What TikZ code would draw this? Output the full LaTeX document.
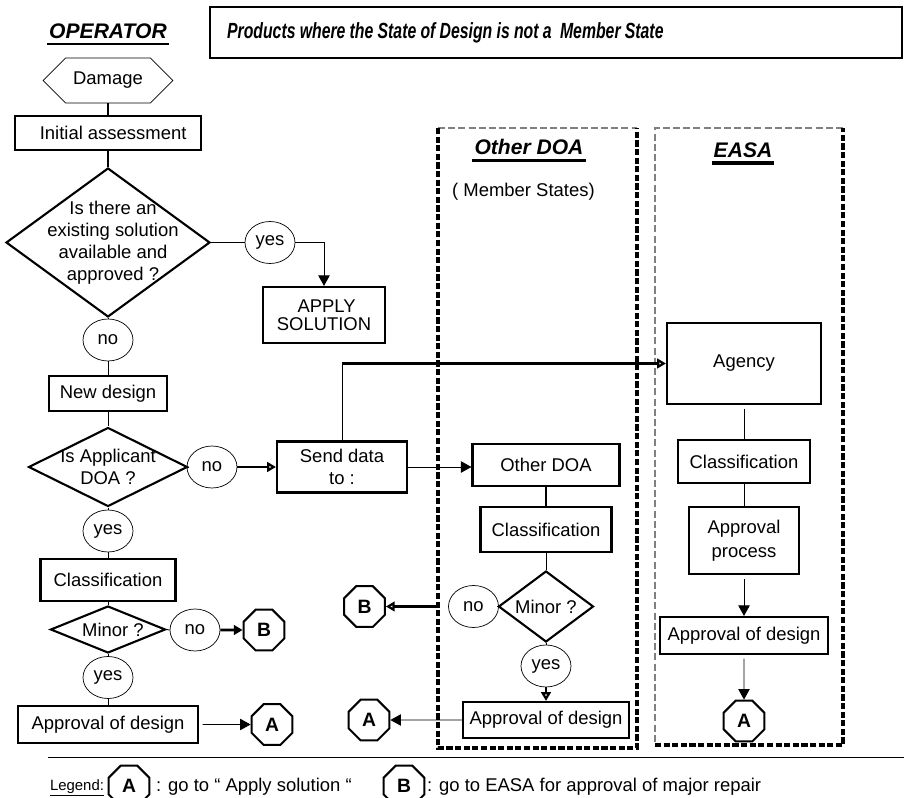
\documentclass[tikz,border=0pt]{standalone}
\usepackage{fontspec}
\setmainfont{Liberation Sans}
\usetikzlibrary{shapes.geometric,shapes.symbols,arrows.meta}

\begin{document}
\begin{tikzpicture}[x=0.02cm, y=-0.02cm,
  txt/.style={font=\fontsize{10.5pt}{12.5pt}\selectfont},
  box/.style={draw, line width=1.2pt, txt, align=center, inner sep=1pt},
  decision/.style={draw, diamond, line width=1.2pt, inner sep=0pt},
  blob/.style={draw, ellipse, line width=0.4pt, txt, inner sep=0pt, minimum width=1cm, minimum height=0.84cm},
  goto/.style={draw, regular polygon, regular polygon sides=8, line width=1.2pt, inner sep=0pt, minimum size=0.88cm, font=\fontsize{11pt}{13pt}\selectfont\bfseries},
  heading/.style={font=\fontsize{12pt}{14pt}\selectfont\bfseries\itshape, inner xsep=1pt, inner ysep=3pt},
  link/.style={line width=0.5pt},
  arr/.style={link, -{Triangle[length=6pt,width=6.5pt]}},
  boldarr/.style={line width=1.6pt, -{Triangle[open,length=5pt,width=5.5pt]}},
  boldfill/.style={line width=1.6pt, -{Triangle[length=5pt,width=5.5pt]}},
  frame/.style={line width=1.9pt, dash pattern=on 3.5pt off 1.4pt},
  thinframe/.style={gray, line width=0.6pt, dash pattern=on 4pt off 1.8pt}]
\useasboundingbox (0, 0) rectangle (904, 798);
\fill [white] (0, 0) rectangle (904, 798);

% headings
\node [heading] (hop) at (108, 31) {OPERATOR};
\draw [line width=1.1pt] (hop.south west) -- (hop.south east);
\node [draw, line width=1.3pt, minimum width=13.84cm, minimum height=1.02cm, text width=13.16cm, align=left, inner xsep=0.34cm] (title) at (556, 32.5) {\scalebox{0.72}[1]{\fontsize{12.5pt}{14pt}\selectfont\bfseries\itshape Products where the State of Design is not a\ \ Member State}};

% dashed frames
\draw [thinframe] (438, 128) -- (637, 128);
\draw [frame] (438, 128) -- (438, 748) -- (637, 748) -- (637, 128);
\draw [thinframe] (843, 128) -- (655, 128) -- (655, 745);
\draw [frame] (655, 745) -- (843, 745) -- (843, 128);
\node [heading] (hodoa) at (529, 147) {Other DOA};
\draw [line width=1.6pt] (hodoa.south west) -- (hodoa.south east);
\node [txt, anchor=west] (mstates) at (446, 192) {( Member States)};
\node [heading] (heasa) at (743, 150) {EASA};
\draw [line width=2.2pt] (heasa.south west) -- (heasa.south east);

% operator column
\node [draw, signal, signal to=west and east, signal pointer angle=90, line width=0.4pt, txt, minimum width=2.6cm, minimum height=0.9cm, inner sep=0pt] (damage) at (108, 80.5) {Damage};
\node [box, minimum width=3.72cm, minimum height=0.68cm] (init) at (108, 133) {\ \ Initial assessment};
\node [decision, minimum width=4.08cm, minimum height=2.98cm, label={[txt, align=center, xshift=0.1cm]center:Is there an\\existing solution\\available and\\approved ?}] (q1) at (108, 242.5) {};
\node [blob] (yes1) at (270, 242.5) {yes};
\node [box, minimum width=2.44cm, minimum height=1.12cm, font=\fontsize{10.5pt}{10.5pt}\selectfont] (apply) at (324, 315) {\ APPLY\\SOLUTION};
\node [blob] (no1) at (108, 340) {no};
\node [box, minimum width=2.36cm, minimum height=0.7cm] (newd) at (108, 393.5) {New design};
\node [decision, minimum width=3.18cm, minimum height=1.58cm, label={[txt, align=center]center:Is Applicant\\DOA ?}] (q2) at (108, 467) {};
\node [blob] (no2) at (212, 467) {no};
\node [box, minimum width=2.6cm, minimum height=1.02cm] (send) at (342, 467) {Send data\\to :};
\node [blob] (yes2) at (108, 531) {yes};
\node [box, minimum width=2.7cm, minimum height=0.84cm] (cls1) at (108, 580) {Classification};
\node [decision, minimum width=2.3cm, minimum height=0.94cm, label={[txt, xshift=0.1cm]center:Minor ?}] (minor1) at (108, 629.5) {};
\node [blob] (no3) at (195, 630) {no};
\node [goto] (B1) at (264, 630) {B};
\node [blob] (yes3) at (108, 677.5) {yes};
\node [box, minimum width=3.6cm, minimum height=0.74cm] (appr1) at (108, 724.5) {Approval of design};
\node [goto] (A1) at (272, 724.5) {A};

% other DOA column
\node [box, minimum width=2.94cm, minimum height=0.84cm] (odoa) at (546, 465) {Other DOA};
\node [box, minimum width=2.62cm, minimum height=0.9cm] (cls2) at (546, 529.5) {Classification};
\node [decision, minimum width=1.9cm, minimum height=1.42cm, label={[txt]center:Minor ?}] (minor2) at (546, 606.5) {};
\node [blob] (no4) at (473.5, 606.5) {no};
\node [goto] (B2) at (364.5, 606.5) {B};
\node [blob] (yes4) at (546, 666) {yes};
\node [box, minimum width=3.32cm, minimum height=0.72cm] (appr2) at (546, 720) {Approval of design};
\node [goto] (A2) at (369, 720) {A};

% EASA column
\node [box, minimum width=3.08cm, minimum height=1.62cm] (agency) at (744, 363.5) {Agency};
\node [box, minimum width=2.64cm, minimum height=0.86cm] (cls3) at (744, 461.5) {Classification};
\node [box, minimum width=2.2cm, minimum height=1.34cm, font=\fontsize{10.5pt}{13.5pt}\selectfont] (proc) at (744, 540.5) {Approval\\process};
\node [box, minimum width=3.36cm, minimum height=0.74cm] (appr3) at (744, 635.5) {Approval of design};
\node [goto] (A3) at (744, 721) {A};

% connectors
\draw [line width=1.2pt] (damage.south) -- (init.north);
\draw [line width=1.2pt] (init.south) -- (q1.north);
\draw [link] (q1.east) -- (yes1.west);
\draw [arr] (yes1.east) -| (apply.north);
\draw [link] (q1.south) -- (no1.north);
\draw [link] (no1.south) -- (newd.north);
\draw [link] (newd.south) -- (q2.north);
\draw [link] (q2.east) -- (no2.west);
\draw [boldarr] (no2.east) -- (send.west);
\draw [link] (q2.south) -- (yes2.north);
\draw [link] (yes2.south) -- (cls1.north);
\draw [link] (cls1.south) -- (minor1.north);
\draw [link] (minor1.east) -- (no3.west);
\draw [boldfill] (no3.east) -- (B1.west);
\draw [link] (minor1.south) -- (yes3.north);
\draw [link] (yes3.south) -- (appr1.north);
\draw [arr, shorten <=2pt] (appr1.east) -- (A1.west);
\coordinate (turn) at (send.north |- agency.west);
\draw [link] (send.north) -- (turn);
\draw [boldarr] (turn) -- (agency.west);
\draw [arr] (send.east) -- (send.east -| odoa.west);
\draw [line width=1.2pt] (odoa.south) -- (cls2.north);
\draw [link] (cls2.south) -- (minor2.north);
\draw [link] (minor2.west) -- (no4.east);
\draw [boldarr, shorten <=5pt] (no4.west) -- (B2.east);
\draw [link] (minor2.south) -- (yes4.north);
\draw [boldarr] (yes4.south) -- (appr2.north);
\draw [arr] (appr2.west) -- (A2.east);
\draw [link, shorten <=2pt] (agency.south) -- (cls3.north);
\draw [link] (cls3.south) -- (proc.north);
\draw [arr, shorten <=2pt] (proc.south) -- (appr3.north);
\draw [arr, shorten <=2pt] (appr3.south) -- (A3.north);

% legend
\draw [link] (48, 757) -- (904, 757);
\node [font=\fontsize{8.5pt}{10pt}\selectfont] (lgd) at (77, 788) {\underline{Legend:}};
\node [goto] (lgA) at (129, 786) {A};
\node [txt, anchor=west] (lgAtxt) at (150, 787) {: go to “ Apply solution “};
\node [goto] (lgB) at (404, 786) {B};
\node [txt, anchor=west] (lgBtxt) at (421, 787) {: go to EASA for approval of major repair};
\end{tikzpicture}
\end{document}
